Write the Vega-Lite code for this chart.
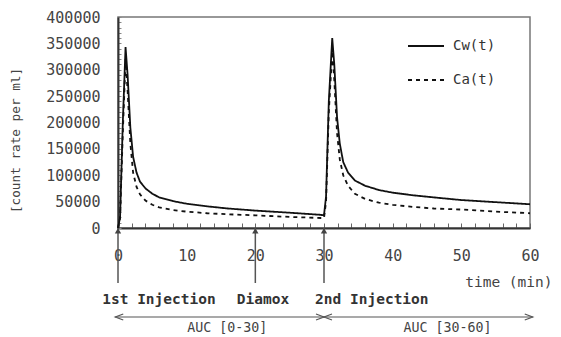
{
  "$schema": "https://vega.github.io/schema/vega-lite/v6.json",
  "width": 412,
  "height": 211,
  "autosize": "none",
  "padding": {"left": 118, "top": 17, "right": 31, "bottom": 109},
  "background": "white",
  "config": {
    "view": {"stroke": "#777", "strokeWidth": 1.5},
    "font": "DejaVu Sans Mono",
    "axis": {"labelOverlap": false, "labelBound": false, "labelFlush": false, "zindex": 1, "grid": false, "ticks": true}
  },
  "datasets": {
    "curves": [
      {"t": 0, "v": 0, "s": "Cw(t)"}, {"t": 0.3, "v": 20000, "s": "Cw(t)"}, {"t": 0.7, "v": 200000, "s": "Cw(t)"}, {"t": 1.1, "v": 343000, "s": "Cw(t)"}, {"t": 1.4, "v": 290000, "s": "Cw(t)"}, {"t": 1.8, "v": 190000, "s": "Cw(t)"}, {"t": 2.2, "v": 135000, "s": "Cw(t)"}, {"t": 2.7, "v": 105000, "s": "Cw(t)"}, {"t": 3.2, "v": 88000, "s": "Cw(t)"}, {"t": 4, "v": 75000, "s": "Cw(t)"}, {"t": 5, "v": 65000, "s": "Cw(t)"}, {"t": 6, "v": 58000, "s": "Cw(t)"}, {"t": 8, "v": 51000, "s": "Cw(t)"}, {"t": 10, "v": 46000, "s": "Cw(t)"}, {"t": 13, "v": 41000, "s": "Cw(t)"}, {"t": 16, "v": 37000, "s": "Cw(t)"}, {"t": 20, "v": 33000, "s": "Cw(t)"}, {"t": 25, "v": 29000, "s": "Cw(t)"}, {"t": 29.5, "v": 25000, "s": "Cw(t)"}, {"t": 30, "v": 24000, "s": "Cw(t)"}, {"t": 30.3, "v": 60000, "s": "Cw(t)"}, {"t": 30.7, "v": 240000, "s": "Cw(t)"}, {"t": 31.2, "v": 360000, "s": "Cw(t)"}, {"t": 31.5, "v": 310000, "s": "Cw(t)"}, {"t": 31.9, "v": 210000, "s": "Cw(t)"}, {"t": 32.3, "v": 160000, "s": "Cw(t)"}, {"t": 32.8, "v": 125000, "s": "Cw(t)"}, {"t": 33.5, "v": 105000, "s": "Cw(t)"}, {"t": 34.5, "v": 90000, "s": "Cw(t)"}, {"t": 36, "v": 80000, "s": "Cw(t)"}, {"t": 38, "v": 72000, "s": "Cw(t)"}, {"t": 40, "v": 67000, "s": "Cw(t)"}, {"t": 43, "v": 62000, "s": "Cw(t)"}, {"t": 46, "v": 58000, "s": "Cw(t)"}, {"t": 50, "v": 53000, "s": "Cw(t)"}, {"t": 55, "v": 49000, "s": "Cw(t)"}, {"t": 60, "v": 45000, "s": "Cw(t)"},
      {"t": 0, "v": 0, "s": "Ca(t)"}, {"t": 0.3, "v": 18000, "s": "Ca(t)"}, {"t": 0.7, "v": 180000, "s": "Ca(t)"}, {"t": 1.1, "v": 320000, "s": "Ca(t)"}, {"t": 1.4, "v": 260000, "s": "Ca(t)"}, {"t": 1.8, "v": 160000, "s": "Ca(t)"}, {"t": 2.2, "v": 105000, "s": "Ca(t)"}, {"t": 2.7, "v": 78000, "s": "Ca(t)"}, {"t": 3.2, "v": 64000, "s": "Ca(t)"}, {"t": 4, "v": 52000, "s": "Ca(t)"}, {"t": 5, "v": 44000, "s": "Ca(t)"}, {"t": 6, "v": 39000, "s": "Ca(t)"}, {"t": 8, "v": 34000, "s": "Ca(t)"}, {"t": 10, "v": 31000, "s": "Ca(t)"}, {"t": 13, "v": 28000, "s": "Ca(t)"}, {"t": 16, "v": 26000, "s": "Ca(t)"}, {"t": 20, "v": 24000, "s": "Ca(t)"}, {"t": 25, "v": 21000, "s": "Ca(t)"}, {"t": 29.5, "v": 19000, "s": "Ca(t)"}, {"t": 30, "v": 18500, "s": "Ca(t)"}, {"t": 30.3, "v": 50000, "s": "Ca(t)"}, {"t": 30.7, "v": 220000, "s": "Ca(t)"}, {"t": 31.2, "v": 335000, "s": "Ca(t)"}, {"t": 31.5, "v": 280000, "s": "Ca(t)"}, {"t": 31.9, "v": 180000, "s": "Ca(t)"}, {"t": 32.3, "v": 130000, "s": "Ca(t)"}, {"t": 32.8, "v": 100000, "s": "Ca(t)"}, {"t": 33.5, "v": 80000, "s": "Ca(t)"}, {"t": 34.5, "v": 65000, "s": "Ca(t)"}, {"t": 36, "v": 55000, "s": "Ca(t)"}, {"t": 38, "v": 48000, "s": "Ca(t)"}, {"t": 40, "v": 44000, "s": "Ca(t)"}, {"t": 43, "v": 40000, "s": "Ca(t)"}, {"t": 46, "v": 37000, "s": "Ca(t)"}, {"t": 50, "v": 35000, "s": "Ca(t)"}, {"t": 55, "v": 31000, "s": "Ca(t)"}, {"t": 60, "v": 28000, "s": "Ca(t)"}
    ],
    "events": [
      {"event": "1st Injection", "t": 0, "tx": -2.3},
      {"event": "Diamox", "t": 20, "tx": 17.3},
      {"event": "2nd Injection", "t": 30, "tx": 28.7}
    ],
    "auc": [
      {"label": "AUC [0-30]", "start": -0.4, "end": 30, "mid": 15.9},
      {"label": "AUC [30-60]", "start": 30, "end": 60.4, "mid": 48}
    ]
  },
  "layer": [
    {
      "data": {"name": "curves"},
      "mark": {"type": "line", "color": "#111", "strokeWidth": 1.8},
      "encoding": {
        "x": {
          "field": "t", "type": "quantitative",
          "scale": {"domain": [0, 60], "nice": false, "zero": false},
          "axis": {
            "values": [0,2,4,6,8,10,12,14,16,18,20,22,24,26,28,30,32,34,36,38,40,42,44,46,48,50,52,54,56,58,60],
            "tickCount": 1000,
            "labelExpr": "datum.value % 10 == 0 ? format(datum.value, 'd') : ''",
            "tickSize": {"expr": "-5"}, "tickColor": "#666", "tickWidth": 1, "domainColor": "#333", "domainWidth": 2,
            "labelPadding": 25, "labelFontSize": 15, "labelColor": "#444", "labelFont": "DejaVu Sans Mono",
            "title": "time (min)", "titleX": 434, "titleY": 54, "titleAlign": "right", "titleBaseline": "middle",
            "titleFont": "DejaVu Sans Mono", "titleFontSize": 14.5, "titleFontWeight": "normal", "titleColor": "#444"
          }
        },
        "y": {
          "field": "v", "type": "quantitative",
          "scale": {"domain": [0, 400000], "nice": false},
          "axis": {
            "values": [0,10000,20000,30000,40000,50000,60000,70000,80000,90000,100000,110000,120000,130000,140000,150000,160000,170000,180000,190000,200000,210000,220000,230000,240000,250000,260000,270000,280000,290000,300000,310000,320000,330000,340000,350000,360000,370000,380000,390000,400000],
            "tickCount": 1000,
            "labelExpr": "datum.value % 50000 == 0 ? format(datum.value, 'd') : ''",
            "tickSize": {"expr": "-3"}, "tickColor": "#888", "tickWidth": 1, "domainColor": "#333", "domainWidth": 2,
            "labelPadding": 21, "labelFontSize": 15, "labelColor": "#444", "labelFont": "DejaVu Sans Mono",
            "title": "[count rate per ml]", "titleX": -103, "titleY": 123, "titleBaseline": "middle",
            "titleFont": "DejaVu Sans Mono", "titleFontSize": 12.7, "titleFontWeight": "normal", "titleColor": "#444"
          }
        },
        "strokeDash": {
          "field": "s", "type": "nominal",
          "scale": {"domain": ["Cw(t)", "Ca(t)"], "range": [[1, 0], [4, 4]]},
          "legend": {
            "title": null, "orient": "none", "legendX": 289, "legendY": 10,
            "symbolType": "stroke", "symbolSize": 1296, "symbolStrokeColor": "#111", "symbolStrokeWidth": 1.8,
            "labelFont": "DejaVu Sans Mono", "labelFontSize": 14, "labelColor": "#333", "labelOffset": 8, "rowPadding": 8
          }
        }
      }
    },
    {
      "data": {"name": "events"},
      "mark": {"type": "rule", "color": "#555", "strokeWidth": 1.5},
      "encoding": {
        "x": {"field": "t", "type": "quantitative"},
        "y": {"datum": 0},
        "y2": {"datum": -104300}
      }
    },
    {
      "data": {"name": "events"},
      "mark": {"type": "point", "shape": "triangle-up", "filled": true, "color": "#444", "size": 40, "opacity": 1},
      "encoding": {
        "x": {"field": "t", "type": "quantitative"},
        "y": {"datum": -5000}
      }
    },
    {
      "data": {"name": "events"},
      "mark": {"type": "text", "align": "left", "baseline": "middle", "font": "DejaVu Sans Mono", "fontWeight": "bold", "fontSize": 14.5, "color": "#333"},
      "encoding": {
        "x": {"field": "tx", "type": "quantitative"},
        "y": {"datum": -136500},
        "text": {"field": "event"}
      }
    },
    {
      "data": {"name": "auc"},
      "mark": {"type": "rule", "color": "#555", "strokeWidth": 1.2},
      "encoding": {
        "x": {"field": "start", "type": "quantitative"},
        "x2": {"field": "end"},
        "y": {"datum": -168700}
      }
    },
    {
      "data": {"name": "auc"},
      "transform": [{"fold": ["start", "end"], "as": ["end_kind", "pos"]}],
      "mark": {"type": "point", "filled": false, "color": "#555", "strokeWidth": 1.2, "size": 100, "opacity": 1},
      "encoding": {
        "x": {"field": "pos", "type": "quantitative"},
        "y": {"datum": -168700},
        "shape": {
          "field": "end_kind", "type": "nominal",
          "scale": {"domain": ["start", "end"], "range": ["M 1.6 -0.6 L 0 0 L 1.6 0.6", "M -1.6 -0.6 L 0 0 L -1.6 0.6"]},
          "legend": null
        }
      }
    },
    {
      "data": {"name": "auc"},
      "mark": {"type": "text", "align": "center", "baseline": "middle", "font": "DejaVu Sans Mono", "fontSize": 13.3, "color": "#444"},
      "encoding": {
        "x": {"field": "mid", "type": "quantitative"},
        "y": {"datum": -189600},
        "text": {"field": "label"}
      }
    }
  ]
}
